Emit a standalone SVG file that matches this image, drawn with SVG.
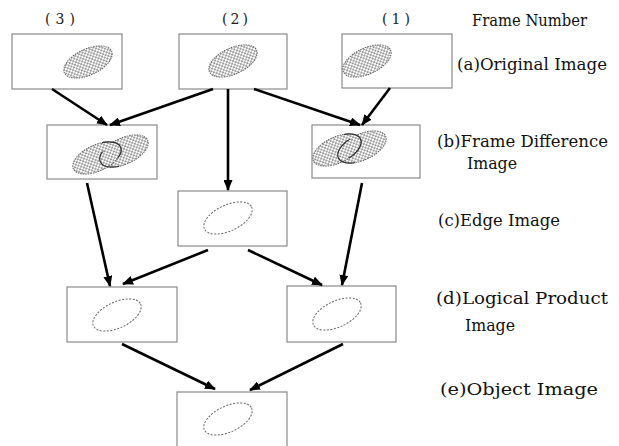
<svg xmlns="http://www.w3.org/2000/svg" width="619" height="446" viewBox="0 0 619 446">
<style>
.box{fill:#fff;stroke:#8a8a8a;stroke-width:1.2}
.stip{fill:url(#dots);stroke:#666;stroke-width:1;stroke-dasharray:1.5 1}
.edge{fill:none;stroke:#666;stroke-width:1;stroke-dasharray:2 1.5}
.lens{fill:none;stroke:#333;stroke-width:1.2}
.arr{stroke:#000;stroke-width:2.6;fill:none;marker-end:url(#ah)}
.lbl{font-family:"DejaVu Serif","Liberation Serif",serif;font-size:16.5px;fill:#111}
.num{font-family:"DejaVu Serif","Liberation Serif",serif;font-size:14px;fill:#222}
</style>
<defs>
<pattern id="dots" width="4" height="4" patternUnits="userSpaceOnUse">
<rect width="4" height="4" fill="#fff"/>
<circle cx="1" cy="1" r="0.85" fill="#444"/>
<circle cx="3" cy="3" r="0.85" fill="#444"/>
</pattern>
<marker id="ah" markerWidth="11" markerHeight="9" refX="10" refY="4.5" orient="auto" markerUnits="userSpaceOnUse">
<path d="M0,0 L11,4.5 L0,9 Z" fill="#000"/>
</marker>
<clipPath id="cL2"><ellipse cx="124" cy="151" rx="26" ry="13" transform="rotate(-25 124 151)"/></clipPath>
<clipPath id="cL1"><ellipse cx="97" cy="158" rx="26" ry="13" transform="rotate(-25 97 158)"/></clipPath>
<clipPath id="cR2"><ellipse cx="362" cy="147" rx="26" ry="13" transform="rotate(-25 362 147)"/></clipPath>
<clipPath id="cR1"><ellipse cx="337" cy="150" rx="26" ry="13" transform="rotate(-25 337 150)"/></clipPath>
</defs>
<rect width="619" height="446" fill="#fff"/>

<g id="labels">
<text class="num" x="45" y="24" textLength="30" lengthAdjust="spacing">(3)</text>
<text class="num" x="222" y="24" textLength="26" lengthAdjust="spacing">(2)</text>
<text class="num" x="382" y="24" textLength="28" lengthAdjust="spacing">(1)</text>
<text class="lbl" x="472" y="26" textLength="115" lengthAdjust="spacingAndGlyphs">Frame Number</text>
<text class="lbl" x="457" y="70" textLength="150" lengthAdjust="spacingAndGlyphs">(a)Original Image</text>
<text class="lbl" x="437" y="147" textLength="171" lengthAdjust="spacingAndGlyphs">(b)Frame Difference</text>
<text class="lbl" x="467" y="169" textLength="50" lengthAdjust="spacingAndGlyphs">Image</text>
<text class="lbl" x="438" y="226" textLength="122" lengthAdjust="spacingAndGlyphs">(c)Edge Image</text>
<text class="lbl" x="436" y="304" textLength="172" lengthAdjust="spacingAndGlyphs">(d)Logical Product</text>
<text class="lbl" x="465" y="331" textLength="50" lengthAdjust="spacingAndGlyphs">Image</text>
<text class="lbl" x="440" y="395" textLength="158" lengthAdjust="spacingAndGlyphs">(e)Object Image</text>
</g>

<g id="orig3">
<rect class="box" x="12" y="34" width="110" height="55"/>
<ellipse class="stip" cx="88" cy="62" rx="26" ry="13" transform="rotate(-25 88 62)"/>
</g>
<g id="orig2">
<rect class="box" x="179" y="34" width="108" height="55"/>
<ellipse class="stip" cx="233" cy="61" rx="26" ry="13" transform="rotate(-25 233 61)"/>
</g>
<g id="orig1">
<rect class="box" x="342" y="34" width="110" height="54"/>
<ellipse class="stip" cx="367" cy="61" rx="26" ry="13" transform="rotate(-25 367 61)"/>
</g>

<g id="diffL">
<rect class="box" x="47" y="125" width="110" height="54"/>
<ellipse class="stip" cx="124" cy="151" rx="26" ry="13" transform="rotate(-25 124 151)"/>
<ellipse class="stip" cx="97" cy="158" rx="26" ry="13" transform="rotate(-25 97 158)"/>
<ellipse class="lens" clip-path="url(#cL2)" cx="97" cy="158" rx="26" ry="13" transform="rotate(-25 97 158)"/>
<ellipse class="lens" clip-path="url(#cL1)" cx="124" cy="151" rx="26" ry="13" transform="rotate(-25 124 151)"/>
</g>
<g id="diffR">
<rect class="box" x="312" y="125" width="108" height="53"/>
<ellipse class="stip" cx="362" cy="147" rx="26" ry="13" transform="rotate(-25 362 147)"/>
<ellipse class="stip" cx="337" cy="150" rx="26" ry="13" transform="rotate(-25 337 150)"/>
<ellipse class="lens" clip-path="url(#cR2)" cx="337" cy="150" rx="26" ry="13" transform="rotate(-25 337 150)"/>
<ellipse class="lens" clip-path="url(#cR1)" cx="362" cy="147" rx="26" ry="13" transform="rotate(-25 362 147)"/>
</g>

<g id="edgeImg">
<rect class="box" x="178" y="191" width="109" height="55"/>
<ellipse class="edge" cx="228" cy="218" rx="26" ry="13" transform="rotate(-25 228 218)"/>
</g>

<g id="logicL">
<rect class="box" x="67" y="287" width="110" height="55"/>
<ellipse class="edge" cx="117" cy="315" rx="26" ry="13" transform="rotate(-25 117 315)"/>
</g>
<g id="logicR">
<rect class="box" x="287" y="286" width="109" height="56"/>
<ellipse class="edge" cx="337" cy="314" rx="26" ry="13" transform="rotate(-25 337 314)"/>
</g>

<g id="object">
<rect class="box" x="177" y="392" width="110" height="60"/>
<ellipse class="edge" cx="228" cy="419" rx="26" ry="13" transform="rotate(-25 228 419)"/>
</g>

<g id="connectors">
<line class="arr" x1="52" y1="89" x2="107" y2="125"/>
<line class="arr" x1="213" y1="89" x2="110" y2="125"/>
<line class="arr" x1="228" y1="89" x2="228" y2="190"/>
<line class="arr" x1="254" y1="89" x2="360" y2="125"/>
<line class="arr" x1="390" y1="88" x2="362" y2="125"/>
<line class="arr" x1="87" y1="183" x2="110" y2="286"/>
<line class="arr" x1="208" y1="250" x2="123" y2="284"/>
<line class="arr" x1="248" y1="250" x2="322" y2="285"/>
<line class="arr" x1="362" y1="183" x2="342" y2="285"/>
<line class="arr" x1="122" y1="344" x2="215" y2="389"/>
<line class="arr" x1="343" y1="344" x2="250" y2="390"/>
</g>
</svg>
